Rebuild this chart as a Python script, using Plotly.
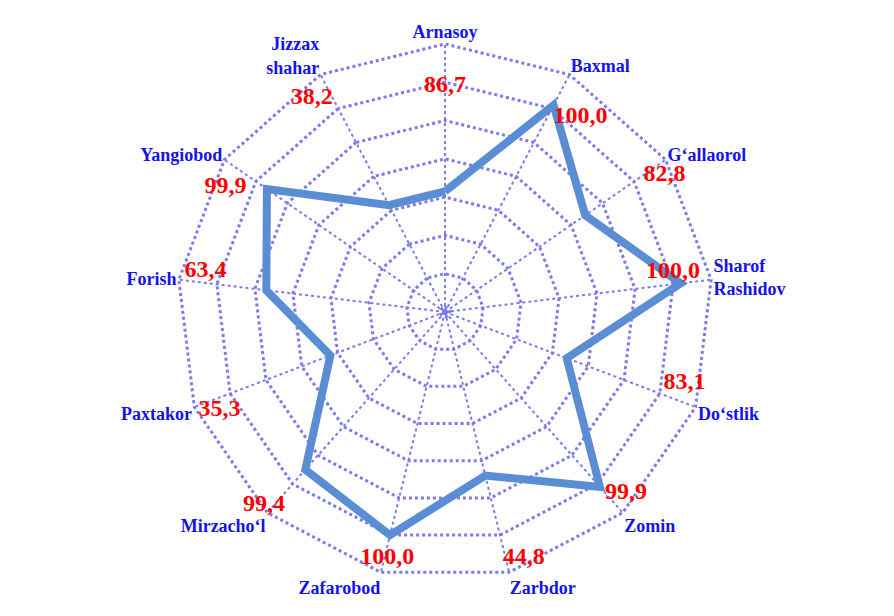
import plotly.graph_objects as go

# Tumanlar (burchak o'qi)
districts = ["Arnasoy", "Baxmal", "G‘allaorol", "Sharof<br>Rashidov", "Do‘stlik",
             "Zomin", "Zarbdor", "Zafarobod", "Mirzacho‘l", "Paxtakor",
             "Forish", "Yangiobod", "Jizzax<br>shahar"]

# Chiziq qiymatlari (rasmdagi halqalar bo'yicha o'qilgan)
line_values = [3.15, 6.1, 4.45, 6.2, 3.4, 6.1, 4.4, 6.0, 5.5, 3.2, 4.7, 5.65, 3.15]

# Yozuv qiymatlari
value_labels = ["86,7", "100,0", "82,8", "100,0", "83,1", "99,9", "44,8",
                "100,0", "99,4", "35,3", "63,4", "99,9", "38,2"]

ring_ticks = [0.12, 1, 2, 3, 4, 5, 6, 7]

# yozuvlarning joylashuvi (faqat bezak)
label_r = [5.9, 6.1, 6.3, 6.0, 6.1, 6.3, 6.3, 6.3, 6.3, 6.3, 6.3, 6.3, 6.3]
label_pos = ["middle center", "bottom right", "middle right", "top center",
             "top right", "middle right", "bottom right", "bottom center",
             "bottom left", "bottom center", "top center", "bottom left", "middle left"]

GRID = "#7b7bef"

fig = go.Figure()

fig.add_trace(go.Scatterpolar(
    r=line_values + line_values[:1],
    theta=districts + districts[:1],
    mode="lines",
    line=dict(color="#5a8dd3", width=8),
    hoverinfo="skip",
))

fig.add_trace(go.Scatterpolar(
    r=label_r,
    theta=districts,
    mode="text",
    text=value_labels,
    textposition=label_pos,
    textfont=dict(family="Liberation Serif", size=24, color="#ff0000", weight="bold"),
    hoverinfo="skip",
))

fig.update_layout(
    width=894,
    height=616,
    margin=dict(l=0, r=0, t=0, b=0),
    showlegend=False,
    paper_bgcolor="white",
    plot_bgcolor="white",
    polar=dict(
        domain=dict(x=[0.1868, 0.7908], y=[0.0682, 0.9448]),
        bgcolor="white",
        gridshape="linear",
        radialaxis=dict(
            range=[0, 7.05],
            tickvals=ring_ticks,
            showticklabels=False,
            ticks="",
            showline=False,
            gridcolor=GRID,
            gridwidth=3,
            griddash="dot",
        ),
        angularaxis=dict(
            direction="clockwise",
            rotation=90,
            showline=False,
            ticks="",
            gridcolor=GRID,
            gridwidth=2,
            griddash="dot",
            tickfont=dict(family="Liberation Serif", size=18, color="#1414e6", weight="bold"),
        ),
    ),
)

fig.write_html("out.html")
